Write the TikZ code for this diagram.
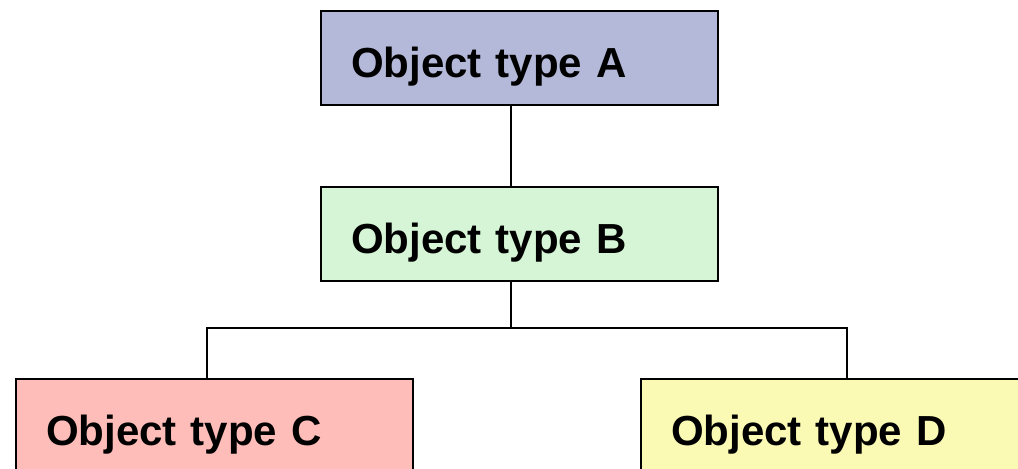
\documentclass[tikz,border=0pt]{standalone}
\usepackage{fontspec}
\setmainfont{Liberation Sans}
\definecolor{typeA}{RGB}{180,185,217}
\definecolor{typeB}{RGB}{214,245,214}
\definecolor{typeC}{RGB}{255,189,185}
\definecolor{typeD}{RGB}{250,250,180}
\begin{document}
\begin{tikzpicture}[scale=1,
		objbox/.style={draw=black, line width=0.05cm, rectangle, anchor=north west,
			inner xsep=0.75cm, inner ysep=0pt, text width=8.425cm, align=left,
			minimum height=2.35cm, text height=1.2cm, text depth=0.225cm,
			font=\fontsize{29.9}{36}\selectfont\bfseries},
		link/.style={line width=0.05cm}]
			\useasboundingbox (0,0) rectangle (25.45,-11.725);
			
			\node[objbox, fill=typeA] (a) at (8.0,-0.25) {Object type A};
			\node[objbox, fill=typeB] (b) at (8.0,-4.65) {Object type B};
			\node[objbox, fill=typeC] (c) at (0.375,-9.45) {Object type C};
			\node[objbox, fill=typeD] (d) at (16.0,-9.45) {Object type D};
			
			% branching points of the tree
			\coordinate (fork) at (12.775,-8.2);
			\coordinate (forkl) at (5.175,-8.2);
			\coordinate (forkr) at (21.175,-8.2);
			
			\draw[link] (a.south -| fork) -- (b.north -| fork);
			\draw[link] (b.south -| fork) -- (fork);
			\draw[link] (c.north -| forkl) -- (forkl) -- (forkr) -- (d.north -| forkr);
		\end{tikzpicture}
\end{document}
